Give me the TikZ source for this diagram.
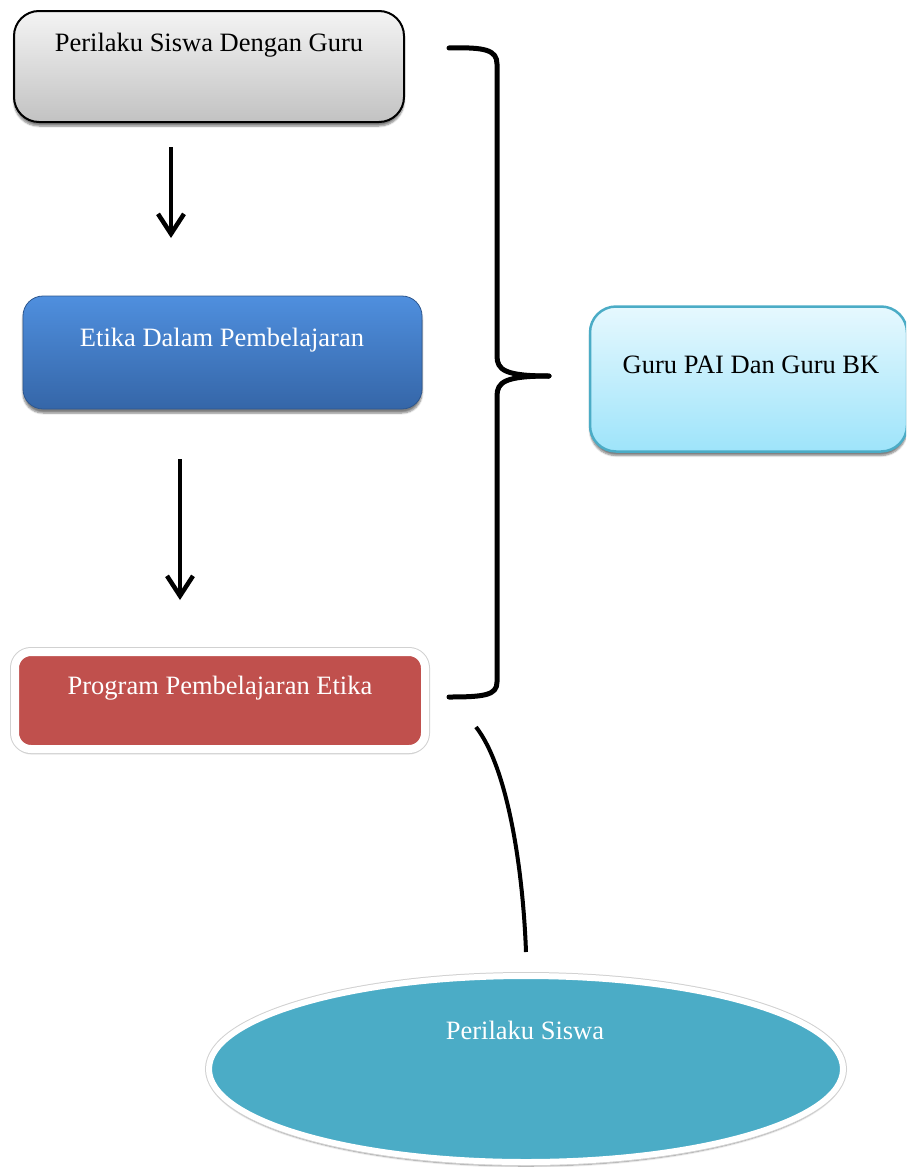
\documentclass[tikz,border=0pt]{standalone}
\usepackage{fontspec}
\setmainfont{Liberation Serif}
\usetikzlibrary{arrows.meta,shadows.blur,shapes.geometric}
\definecolor{grayTop}{HTML}{F4F4F4}
\definecolor{grayBot}{HTML}{C2C2C2}
\definecolor{blueTop}{HTML}{4F8FDE}
\definecolor{blueBot}{HTML}{3566A8}
\definecolor{redFill}{HTML}{C0504D}
\definecolor{cyanTop}{HTML}{E6F8FE}
\definecolor{cyanBot}{HTML}{9EE4FA}
\definecolor{cyanLine}{HTML}{4BACC6}
\definecolor{ellFill}{HTML}{4BACC6}
\tikzset{
  box/.style={rectangle, inner sep=0pt, outer sep=0pt},
  shd/.style={blur shadow={shadow xshift=0pt, shadow yshift=-4pt, shadow blur steps=6, shadow opacity=50}},
  rim/.style={preaction={draw=black!18, line width=#1}},
  txt/.style={anchor=base, inner sep=0pt, font=\fontsize{26.5}{30}\selectfont},
  flowarrow/.style={line width=4.5pt, -{Straight Barb[length=20pt,width=26pt,line width=4.5pt]}},
  bracel/.style={line width=5pt, line cap=round, line join=round},
}
\begin{document}
\begin{tikzpicture}[x=1pt,y=-1pt]
\useasboundingbox (0,0) rectangle (906,1167);
\begin{scope}
\clip (0,0) rectangle (906,1167);
% boxes
\node[box, shd, draw=black, line width=2pt, rounded corners=25pt,
      top color=grayTop, bottom color=grayBot,
      minimum width=390pt, minimum height=111pt] (b1) at (209,66.5) {};
\node[box, shd, draw=blueBot!85!black, line width=0.8pt, rounded corners=20pt,
      top color=blueTop, bottom color=blueBot,
      minimum width=399pt, minimum height=113pt] (b2) at (222.5,352.5) {};
\node[box, shd, rim=10pt, draw=white, line width=8pt, rounded corners=16pt, fill=redFill,
      minimum width=410pt, minimum height=97pt] (b3) at (220,700.5) {};
\node[box, shd, draw=cyanLine, line width=2.5pt, rounded corners=26pt,
      top color=cyanTop, bottom color=cyanBot,
      minimum width=317pt, minimum height=145pt] (b4) at (748.5,379) {};
\node[ellipse, inner sep=0pt, shd, rim=8pt, draw=white, line width=6pt, fill=ellFill,
      minimum width=634pt, minimum height=186pt] (e1) at (526,1069) {};
% texts
\node[txt, text=black] (t1) at (209,51) {Perilaku Siswa Dengan Guru};
\node[txt, text=white] (t2) at (222,346) {Etika Dalam Pembelajaran};
\node[txt, text=white] (t3) at (220,694) {Program Pembelajaran Etika};
\node[txt, text=black] (t4) at (751,373) {Guru PAI Dan Guru BK};
\node[txt, text=white] (t5) at (525,1039) {Perilaku Siswa};
% arrows
\coordinate (a1s) at (b1.south -| 171,0);
\coordinate (a1e) at (b2.north -| 171,0);
\coordinate (a2s) at (b2.south -| 180,0);
\coordinate (a2e) at (b3.north -| 180,0);
\draw[flowarrow, shorten <=25pt, shorten >=58pt] (a1s) -- (a1e);
\draw[flowarrow, shorten <=50pt, shorten >=52pt] (a2s) -- (a2e);
% brace
\coordinate (brTop) at (449,48);
\coordinate (brTip) at (549,376);
\coordinate (brBot) at (449,697);
\draw[bracel] (brTop) .. controls (485,47) and (497,50) .. (497,64) -- (497,356)
   .. controls (497,370) and (505,376) .. (brTip);
\draw[bracel] (brTip) .. controls (505,376) and (497,382) .. (497,396) -- (497,682)
   .. controls (497,695) and (485,697) .. (brBot);
% curve to ellipse
\coordinate (cS) at (476,727);
\coordinate (cE) at (e1.north |- 0,952);
\draw[line width=4pt] (cS) .. controls (508,768) and (523,870) .. (cE);
\end{scope}
\end{tikzpicture}
\end{document}
